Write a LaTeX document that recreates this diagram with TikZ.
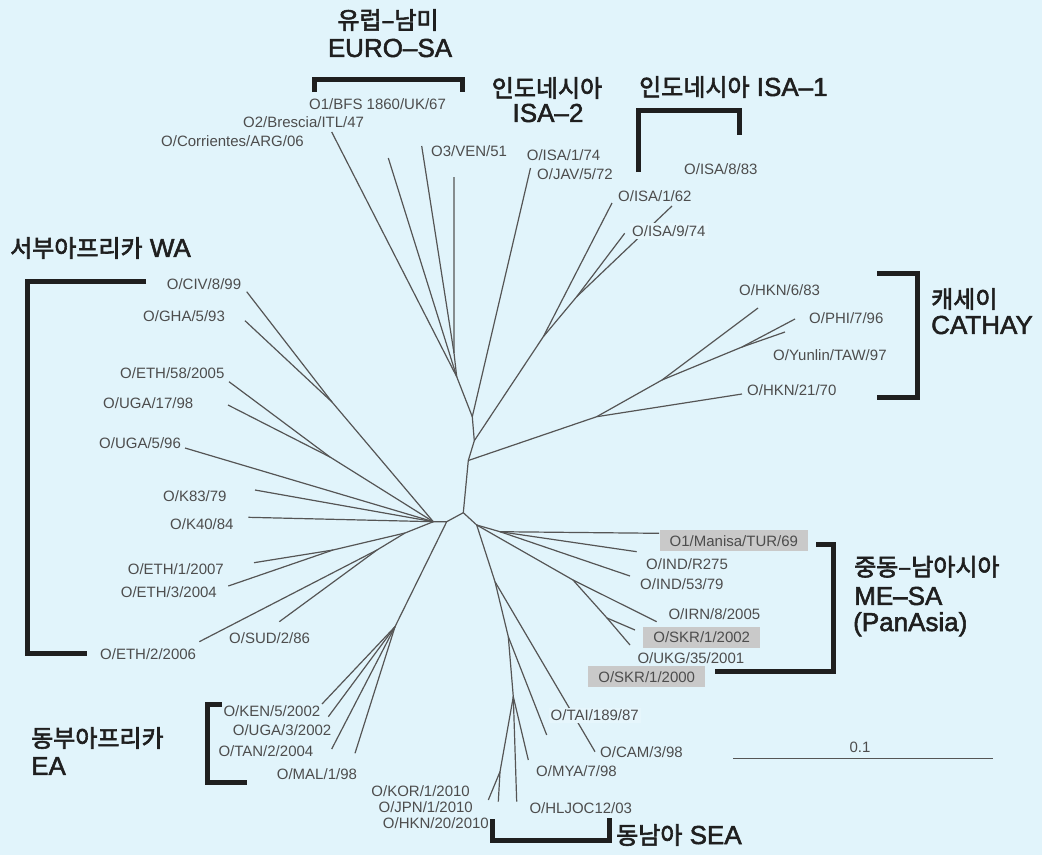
\documentclass[tikz,border=0pt]{standalone}
\usepackage{fontspec}
\setmainfont{Liberation Sans}
\newfontfamily\krfont[FakeBold=2.5]{Noto Sans CJK KR}
\newfontfamily\titlefont[FakeBold=2]{Liberation Sans}
\newcommand{\krtext}[1]{{\krfont\fontsize{24}{27}\selectfont #1}}
\definecolor{skyback}{HTML}{E1F4FB}
\definecolor{branchgray}{HTML}{555555}
\definecolor{leafgray}{HTML}{4D4D4D}
\definecolor{boxgray}{HTML}{C9C9C9}
\tikzset{
  branch/.style={draw=branchgray, line width=1.2pt},
  leaf/.style={font=\fontsize{15}{17}\selectfont, text=leafgray, inner sep=0pt, anchor=west},
  markbox/.style={leaf, anchor=center, fill=boxgray, minimum height=21pt, inner xsep=10pt},
  hidebox/.style={leaf, fill=skyback!82!white, inner sep=2pt},
  grouptitle/.style={font=\titlefont\fontsize{26}{29}\selectfont, text=black!88, inner sep=0pt},
  bracket/.style={draw=black!88, line width=5pt},
}
\begin{document}
\begin{tikzpicture}[x=1pt, y=-1pt]

\fill[skyback] (0,0) rectangle (1042,855);
\useasboundingbox (0,0) rectangle (1042,855);

% inner nodes of the tree
\coordinate (c0) at (463.3,512.7);
\coordinate (wj) at (446.7,521.7);
\coordinate (mj) at (476.7,525);
\coordinate (a1) at (468.3,460.5);
\coordinate (a2) at (474.3,440.7);
\coordinate (a3) at (472.3,416.7);
\coordinate (eu1) at (456.7,376.7);
\coordinate (eu2) at (454,353);
\coordinate (is1) at (543.3,336.7);
\coordinate (is2) at (576.7,296.7);
\coordinate (ca0) at (596.7,416.7);
\coordinate (ca1) at (662,380);
\coordinate (ca2) at (742,347);
\coordinate (w0) at (433.3,521.7);
\coordinate (wg) at (332,402);
\coordinate (we) at (330,457);
\coordinate (wl0) at (405,533);
\coordinate (wl1) at (333,550);
\coordinate (wl2) at (377,550);
\coordinate (ea0) at (395,626.7);
\coordinate (ms1) at (500,531.7);
\coordinate (ms3) at (573,580);
\coordinate (ms4) at (607,618);
\coordinate (s1) at (495,581.7);
\coordinate (s2) at (508.3,636.7);
\coordinate (s3) at (513.3,696.7);
\coordinate (s4) at (500,771.7);

% leaf ends
\coordinate (eCor) at (331.7,132);
\coordinate (eBre) at (388.3,158);
\coordinate (eBfs) at (421.7,146);
\coordinate (eVen) at (454,177);
\coordinate (eIsa2) at (530.5,168);
\coordinate (eIsa162) at (612,203);
\coordinate (eIsa883) at (672,206);
\coordinate (eIsa974) at (624.7,233.3);
\coordinate (eHkn21) at (742,394);
\coordinate (eHkn6) at (758,308);
\coordinate (ePhi) at (795,319);
\coordinate (eYun) at (785,332);
\coordinate (eCiv) at (246.7,291.7);
\coordinate (eGha) at (245,320.7);
\coordinate (eEth58) at (229,381.7);
\coordinate (eUga17) at (228,405);
\coordinate (eUga5) at (185,448);
\coordinate (eK83) at (255,490);
\coordinate (eK40) at (248.3,517.3);
\coordinate (eEth1) at (254,562.7);
\coordinate (eEth3) at (228.3,586);
\coordinate (eSud) at (279.3,621.7);
\coordinate (eEth2) at (199.3,641.7);
\coordinate (eKen) at (322,704);
\coordinate (eUga3) at (328.3,716.7);
\coordinate (eTan) at (331.7,749);
\coordinate (eMal) at (355,753.3);
\coordinate (eTur) at (659,533.3);
\coordinate (eIndr) at (636.7,551.7);
\coordinate (eInd53) at (630,576);
\coordinate (eIrn) at (656.7,621.7);
\coordinate (eSkr02) at (635,630);
\coordinate (eUkg) at (630,645);
\coordinate (eCam) at (595,751.7);
\coordinate (eTai) at (546.7,735);
\coordinate (eMya) at (528.3,760);
\coordinate (eHlj) at (516.7,801.7);
\coordinate (eKor) at (488.3,800);
\coordinate (eJpn) at (498.3,801.7);

% branches
\draw[branch] (wj) -- (c0) -- (a1) -- (a2) -- (a3);
\draw[branch] (c0) -- (mj);
\draw[branch] (w0) -- (wj) -- (ea0);
\draw[branch] (a3) -- (eu1) -- (eu2) -- (eVen);
\draw[branch] (eu2) -- (eBfs);
\draw[branch] (eu1) -- (eBre);
\draw[branch] (eu1) -- (eCor);
\draw[branch] (a3) -- (eIsa2);
\draw[branch] (a2) -- (is1) -- (eIsa162);
\draw[branch] (is1) -- (is2) -- (eIsa883);
\draw[branch] (is2) -- (eIsa974);
\draw[branch] (a1) -- (ca0) -- (eHkn21);
\draw[branch] (ca0) -- (ca1) -- (eHkn6);
\draw[branch] (ca1) -- (ca2) -- (ePhi);
\draw[branch] (ca2) -- (eYun);
\draw[branch] (w0) -- (wg) -- (eCiv);
\draw[branch] (wg) -- (eGha);
\draw[branch] (w0) -- (we) -- (eEth58);
\draw[branch] (we) -- (eUga17);
\draw[branch] (w0) -- (eUga5);
\draw[branch] (w0) -- (eK83);
\draw[branch] (w0) -- (eK40);
\draw[branch] (w0) -- (wl0) -- (wl1) -- (eEth1);
\draw[branch] (wl1) -- (eEth3);
\draw[branch] (wl0) -- (wl2) -- (eEth2);
\draw[branch] (wl2) -- (eSud);
\draw[branch] (ea0) -- (eKen);
\draw[branch] (ea0) -- (eUga3);
\draw[branch] (ea0) -- (eTan);
\draw[branch] (ea0) -- (eMal);
\draw[branch] (mj) -- (ms1) -- (eTur);
\draw[branch] (ms1) -- (eIndr);
\draw[branch] (ms1) -- (eInd53);
\draw[branch] (mj) -- (ms3) -- (eIrn);
\draw[branch] (ms3) -- (ms4) -- (eSkr02);
\draw[branch] (ms4) -- (eUkg);
\draw[branch] (mj) -- (s1) -- (eCam);
\draw[branch] (s1) -- (s2) -- (eTai);
\draw[branch] (s2) -- (s3) -- (eMya);
\draw[branch] (s3) -- (eHlj);
\draw[branch] (s3) -- (s4) -- (eKor);
\draw[branch] (s4) -- (eJpn);

% leaf labels
\node[leaf] (lBfs) at (309,104) {O1/BFS 1860/UK/67};
\node[leaf] (lBre) at (243,122) {O2/Brescia/ITL/47};
\node[leaf] (lCor) at (161,141) {O/Corrientes/ARG/06};
\node[leaf] (lVen) at (431,151) {O3/VEN/51};
\node[leaf] (lIsa174) at (526.7,155) {O/ISA/1/74};
\node[leaf] (lJav) at (537,174) {O/JAV/5/72};
\node[leaf] (lIsa883) at (684,169) {O/ISA/8/83};
\node[leaf] (lIsa162) at (618,196) {O/ISA/1/62};
\node[hidebox] (lIsa974) at (630,231) {O/ISA/9/74};
\node[leaf] (lHkn6) at (739,290) {O/HKN/6/83};
\node[leaf] (lPhi) at (809,318) {O/PHI/7/96};
\node[leaf] (lYun) at (773,355) {O/Yunlin/TAW/97};
\node[leaf] (lHkn21) at (747,390) {O/HKN/21/70};
\node[leaf] (lCiv) at (166.7,284) {O/CIV/8/99};
\node[leaf] (lGha) at (143,316) {O/GHA/5/93};
\node[leaf] (lEth58) at (120,373.3) {O/ETH/58/2005};
\node[leaf] (lUga17) at (103,403) {O/UGA/17/98};
\node[leaf] (lUga5) at (99,442.7) {O/UGA/5/96};
\node[leaf] (lK83) at (163,496) {O/K83/79};
\node[leaf] (lK40) at (170,524) {O/K40/84};
\node[leaf] (lEth1) at (127.7,569) {O/ETH/1/2007};
\node[leaf] (lEth3) at (120.7,591.7) {O/ETH/3/2004};
\node[leaf] (lSud) at (229,638.3) {O/SUD/2/86};
\node[leaf] (lEth2) at (100,654) {O/ETH/2/2006};
\node[leaf] (lKen) at (223.3,711) {O/KEN/5/2002};
\node[leaf] (lUga3) at (232.7,730) {O/UGA/3/2002};
\node[leaf] (lTan) at (218.3,750.7) {O/TAN/2/2004};
\node[leaf] (lMal) at (276.7,774) {O/MAL/1/98};
\node[markbox] (lTur) at (733.9,540.8) {O1/Manisa/TUR/69};
\node[leaf] (lIndr) at (646,564) {O/IND/R275};
\node[leaf] (lInd53) at (640,584) {O/IND/53/79};
\node[leaf] (lIrn) at (668.3,614.3) {O/IRN/8/2005};
\node[markbox] (lSkr02) at (701.7,637) {O/SKR/1/2002};
\node[leaf] (lUkg) at (637.3,658.3) {O/UKG/35/2001};
\node[markbox] (lSkr00) at (646.7,676.7) {O/SKR/1/2000};
\node[hidebox] (lTai) at (548.5,715) {O/TAI/189/87};
\node[leaf] (lCam) at (600,751.7) {O/CAM/3/98};
\node[leaf] (lMya) at (536,770.7) {O/MYA/7/98};
\node[leaf, anchor=east] (lKor) at (470,791) {O/KOR/1/2010};
\node[leaf, anchor=east] (lJpn) at (473,807) {O/JPN/1/2010};
\node[leaf, anchor=east] (lHkn20) at (489,823) {O/HKN/20/2010};
\node[leaf] (lHlj) at (529.3,808.3) {O/HLJOC12/03};

% group brackets
\draw[bracket] (314,92) -- (314,79) -- (462,79) -- (462,92);
\draw[bracket] (638.3,172) -- (638.3,110) -- (739.3,110) -- (739.3,135);
\draw[bracket] (877,273) -- (917,273) -- (917,397) -- (877,397);
\draw[bracket] (146,281) -- (27,281) -- (27,653) -- (87,653);
\draw[bracket] (222,704) -- (207,704) -- (207,782) -- (247,782);
\draw[bracket] (816,544) -- (833,544) -- (833,671) -- (715,671);
\draw[bracket] (492,819) -- (492,840) -- (609,840) -- (609,818);

% group names
\node[grouptitle] (tEuroKr) at (388,20) {\krtext{유럽–남미}};
\node[grouptitle] (tEuro) at (390,48) {EURO–SA};
\node[grouptitle] (tIsa2Kr) at (547,88) {\krtext{인도네시아}};
\node[grouptitle] (tIsa2) at (548,113) {ISA–2};
\node[grouptitle, anchor=west] (tIsa1) at (639,87) {\krtext{인도네시아} ISA–1};
\node[grouptitle, anchor=west] (tCatKr) at (931,299) {\krtext{캐세이}};
\node[grouptitle, anchor=west] (tCat) at (931,325) {CATHAY};
\node[grouptitle, anchor=west] (tWa) at (10,248) {\krtext{서부아프리카} WA};
\node[grouptitle, anchor=west] (tEaKr) at (31,738) {\krtext{동부아프리카}};
\node[grouptitle, anchor=west] (tEa) at (31,766) {EA};
\node[grouptitle, anchor=west] (tMeKr) at (854,566.7) {\krtext{중동–남아시아}};
\node[grouptitle, anchor=west] (tMe) at (854,596) {ME–SA};
\node[grouptitle, anchor=west] (tPan) at (853,624.3) {(PanAsia)};
\node[grouptitle, anchor=west] (tSea) at (616,835) {\krtext{동남아} SEA};

% scale bar
\coordinate (barL) at (733,758);
\coordinate (barR) at (993,758);
\draw[branch, line width=1pt] (barL) -- (barR);
\node[leaf, anchor=south, font=\fontsize{15}{17}\selectfont] (lBar) at (860,753) {0.1};

\end{tikzpicture}
\end{document}
